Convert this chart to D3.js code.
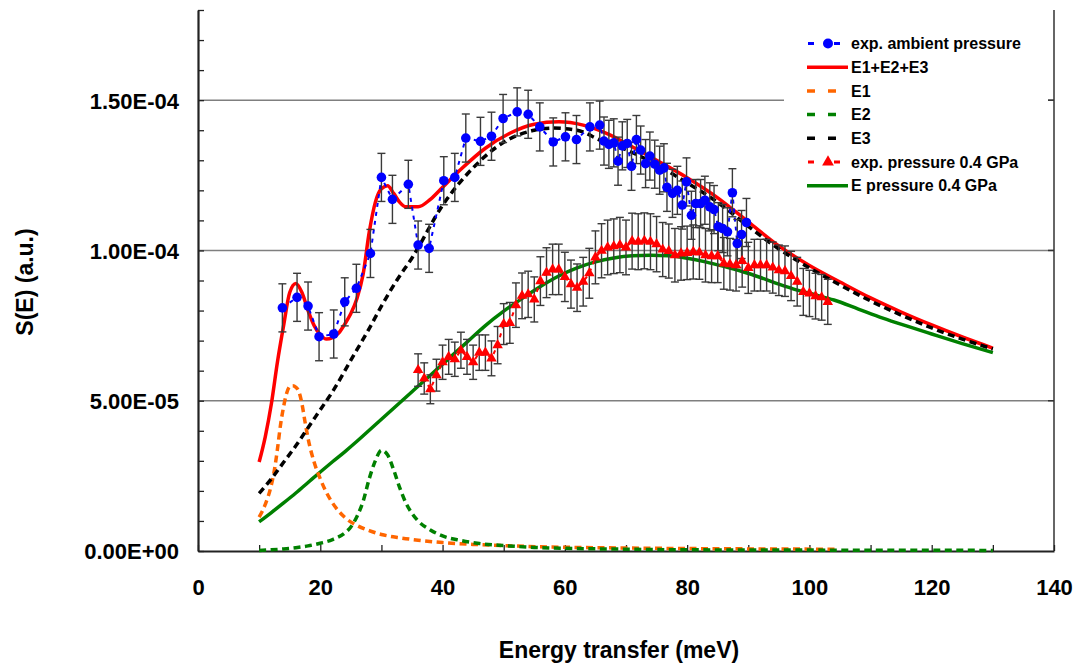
<!DOCTYPE html>
<html>
<head>
<meta charset="utf-8">
<script src="https://cdn.jsdelivr.net/npm/d3@7"></script>
<style>
  html, body { margin: 0; padding: 0; background: #fff; }
  svg { display: block; font-family: "Liberation Sans", Arial, sans-serif; }
</style>
</head>
<body>
<svg id="chart" width="1076" height="663"></svg>
<script>
// S(E) values are stored in units of 1e-5 (a.u.), energies in meV.

// Measured S(E), ambient pressure
const ambientE = [13.8, 16.2, 18.0, 19.8, 22.2, 24.0, 25.9, 28.2, 30.0, 31.8, 34.4, 36.0, 37.8,
  40.2, 42.0, 43.8, 46.2, 48.0, 49.9, 52.2, 54.0, 55.9, 58.1, 60.1, 61.9, 64.1, 65.7, 66.4,
  67.2, 68.0, 68.7, 69.4, 70.2, 70.9, 71.7, 72.4, 73.2, 73.9, 74.7, 75.5, 76.2, 76.7, 77.6,
  78.4, 79.2, 79.9, 80.7, 81.4, 82.2, 82.9, 83.7, 84.4, 85.1, 85.8, 86.6, 87.4, 88.2, 88.9, 89.7];
const ambientS = [8.09, 8.44, 8.15, 7.13, 7.22, 8.29, 8.74, 9.90, 12.43, 11.70, 12.20, 10.18, 10.07,
  12.32, 12.43, 13.74, 13.63, 13.80, 14.39, 14.61, 14.53, 14.11, 13.61, 13.78, 13.69, 14.11, 14.17, 13.64,
  13.53, 13.58, 12.97, 13.48, 13.56, 12.80, 13.69, 13.34, 12.89, 13.14, 12.87, 12.67, 12.75, 12.10, 11.90,
  12.00, 11.51, 12.28, 11.17, 11.56, 11.56, 11.67, 11.45, 11.36, 10.79, 10.73, 10.62, 11.92, 10.23, 10.53, 10.93];
const ambientErr = 0.8;

// Measured S(E), pressure 0.4 GPa
const pressureE = d3.range(36, 104, 1);
const pressureS = [6.02, 5.74, 5.38, 5.85, 6.28, 6.46, 6.38, 6.68, 6.46, 6.28, 6.60, 6.60, 6.41, 6.85,
  7.55, 7.59, 8.18, 8.49, 8.54, 8.37, 8.98, 9.26, 9.37, 9.37, 9.12, 8.88, 8.76, 8.96, 9.24, 9.77,
  9.99, 10.10, 10.14, 10.18, 10.10, 10.31, 10.29, 10.32, 10.29, 10.21, 10.03, 9.98, 9.84, 9.90,
  9.92, 9.95, 9.93, 9.84, 9.81, 9.81, 9.57, 9.54, 9.51, 9.65, 9.42, 9.51, 9.51, 9.51, 9.43, 9.34,
  9.31, 9.15, 8.96, 8.62, 8.57, 8.48, 8.44, 8.29];
const pressureErr = [0.54, 0.52, 0.48, 0.53, 0.57, 0.58, 0.57, 0.60, 0.58, 0.57, 0.59, 0.59, 0.58, 0.62,
  0.68, 0.68, 0.74, 0.76, 0.77, 0.75, 0.81, 0.83, 0.84, 0.84, 0.82, 0.80, 0.79, 0.81, 0.83, 0.88,
  0.90, 0.91, 0.91, 0.92, 0.91, 0.93, 0.93, 0.93, 0.93, 0.92, 0.90, 0.90, 0.89, 0.89,
  0.89, 0.90, 0.89, 0.89, 0.88, 0.88, 0.86, 0.86, 0.86, 0.87, 0.85, 0.86, 0.86, 0.86, 0.85, 0.84,
  0.84, 0.82, 0.81, 0.78, 0.77, 0.76, 0.76, 0.75];

// Fitted components: [E, S]
const fitE1 = [[10, 1.13], [11, 1.55], [12, 2.2], [12.5, 2.7], [13, 3.4], [13.5, 4.2], [14, 4.8],
  [14.5, 5.25], [15, 5.47], [15.5, 5.5], [16, 5.45], [16.5, 5.3], [17, 4.9], [17.5, 4.3], [18, 3.75],
  [19, 2.95], [20, 2.4], [21, 1.95], [22, 1.6], [24, 1.12], [26, 0.85], [28, 0.68], [30, 0.55],
  [33, 0.44], [36, 0.36], [40, 0.28], [45, 0.22], [50, 0.18], [56, 0.14], [65, 0.11], [75, 0.09],
  [90, 0.07], [104.5, 0.06]];
const fitE2 = [[10, 0.02], [12, 0.04], [14, 0.07], [16, 0.11], [18, 0.17], [20, 0.26], [22, 0.38],
  [24, 0.6], [25, 0.8], [26, 1.15], [27, 1.65], [28, 2.4], [29, 3.0], [30, 3.35], [31, 3.2],
  [32, 2.7], [33, 2.1], [34, 1.6], [35, 1.25], [36, 1.0], [38, 0.7], [40, 0.5], [43, 0.35],
  [46, 0.25], [50, 0.18], [55, 0.12], [60, 0.09], [70, 0.06], [80, 0.04], [100, 0.03], [130, 0.02]];
const fitE3 = [[10, 1.92], [12, 2.4], [14, 2.95], [16, 3.5], [18, 4.1], [20, 4.7], [22, 5.3],
  [25, 6.35], [28, 7.4], [30, 8.15], [32.5, 9.0], [35, 9.75], [40, 11.5], [45, 12.75], [50, 13.6],
  [55, 14.0], [58, 14.07], [62, 14.0], [66, 13.65], [70, 13.35], [75, 12.85], [80, 12.25],
  [85, 11.6], [90, 10.8], [95, 10.05], [100, 9.42], [105, 8.85], [110, 8.32], [115, 7.85],
  [120, 7.42], [125, 7.05], [130, 6.72]];
const fitSum = [[10, 2.96], [11, 3.8], [12, 4.9], [13, 6.3], [14, 7.5], [15, 8.6], [16, 8.9],
  [17, 8.6], [18, 8.0], [19, 7.5], [20, 7.2], [21, 7.05], [22, 7.1], [23, 7.25], [24, 7.55],
  [25, 7.9], [26, 8.4], [27, 9.2], [28, 10.6], [29, 11.6], [30, 12.05], [31, 12.15], [32, 11.9],
  [33, 11.6], [34, 11.45], [36, 11.45], [38, 11.7], [40, 12.1], [43, 12.7], [47, 13.4], [51, 13.9],
  [55, 14.2], [59, 14.28], [63, 14.17], [67, 13.88], [71, 13.45], [75, 13.0], [80, 12.42],
  [85, 11.75], [90, 10.95], [95, 10.15], [100, 9.5], [105, 8.95], [110, 8.42], [115, 7.95],
  [120, 7.52], [125, 7.12], [130, 6.75]];
const fitPressure = [[10, 0.97], [12, 1.28], [14, 1.6], [16, 1.93], [18, 2.28], [20, 2.63], [22, 2.97],
  [24, 3.3], [26, 3.65], [29, 4.2], [32, 4.75], [35, 5.3], [38, 5.85], [41, 6.4], [44, 6.95], [47, 7.5],
  [50, 7.98], [53, 8.4], [56, 8.8], [59, 9.15], [62, 9.42], [65, 9.62], [68, 9.75], [71, 9.82],
  [74, 9.84], [77, 9.82], [80, 9.74], [83, 9.62], [86, 9.47], [89, 9.3], [92, 9.1], [95, 8.88],
  [98, 8.68], [101, 8.52], [104, 8.35], [108, 8.05], [112, 7.75], [116, 7.48], [120, 7.22],
  [125, 6.9], [130, 6.6]];

// Axes
const xTicks = d3.range(0, 141, 10);
const xLabelTicks = [0, 20, 40, 60, 80, 100, 120, 140];
const yTicks = d3.range(0, 19, 1);
const yLabelTicks = [0, 5, 10, 15];

const legendItems = [
  { label: "exp. ambient pressure", color: "#0000ff", kind: "circle" },
  { label: "E1+E2+E3", color: "#ff0000", kind: "solid" },
  { label: "E1", color: "#ff6600", kind: "dash" },
  { label: "E2", color: "#008000", kind: "dash" },
  { label: "E3", color: "#000000", kind: "dash" },
  { label: "exp. pressure 0.4 GPa", color: "#ff0000", kind: "triangle" },
  { label: "E pressure 0.4 GPa", color: "#008000", kind: "solid" }
];

const svg = d3.select("#chart");
const plotLeft = 198, plotRight = 1054, plotBottom = 551, plotTop = 10;
const x = d3.scaleLinear().domain([0, 140]).range([plotLeft, plotRight]);
const y = d3.scaleLinear().domain([0, 18]).range([plotBottom, plotTop]);

const fmtSci = v => {
  const [m, e] = (v * 1e-5).toExponential(2).split("e");
  const n = parseInt(e, 10);
  return m + "E" + (n < 0 ? "-" : "+") + String(Math.abs(n)).padStart(2, "0");
};

// Horizontal gridlines
svg.append("g").selectAll("line").data(yLabelTicks.filter(v => v > 0)).join("line")
  .attr("x1", plotLeft).attr("x2", plotRight)
  .attr("y1", d => y(d)).attr("y2", d => y(d))
  .attr("stroke", "#7f7f7f").attr("stroke-width", 1.5);

// Right border with inward major ticks
svg.append("line").attr("x1", plotRight).attr("x2", plotRight).attr("y1", plotTop).attr("y2", plotBottom)
  .attr("stroke", "#333").attr("stroke-width", 1.5);
svg.append("g").selectAll("line").data(yLabelTicks.filter(v => v > 0)).join("line")
  .attr("x1", plotRight - 6).attr("x2", plotRight)
  .attr("y1", d => y(d)).attr("y2", d => y(d))
  .attr("stroke", "#333").attr("stroke-width", 1.5);

// Bottom axis
const xAxis = svg.append("g").attr("transform", `translate(0,${plotBottom})`)
  .call(d3.axisBottom(x).tickValues(xTicks).tickSizeInner(-6).tickSizeOuter(0)
    .tickFormat(d => xLabelTicks.includes(d) ? d : ""));
xAxis.select(".domain").attr("stroke", "#222").attr("stroke-width", 2.2);
xAxis.selectAll(".tick line").attr("stroke", "#222").attr("stroke-width", 1.3);
xAxis.selectAll(".tick text").attr("y", 44).attr("dy", null)
  .attr("fill", "#000").attr("font-size", 22).attr("font-weight", "bold")
  .attr("font-family", "'Liberation Sans', Arial, sans-serif");

// Left axis
const yAxis = svg.append("g").attr("transform", `translate(${plotLeft},0)`)
  .call(d3.axisLeft(y).tickValues(yTicks).tickSizeInner(-6).tickSizeOuter(0)
    .tickFormat(d => yLabelTicks.includes(d) ? fmtSci(d) : ""));
yAxis.select(".domain").attr("stroke", "#222").attr("stroke-width", 2.2);
yAxis.selectAll(".tick line").attr("stroke", "#222").attr("stroke-width", 1.3);
yAxis.selectAll(".tick text").attr("x", -19).attr("dy", "0.36em")
  .attr("fill", "#000").attr("font-size", 22).attr("font-weight", "bold")
  .attr("font-family", "'Liberation Sans', Arial, sans-serif");

// Axis titles
svg.append("text").attr("x", 619).attr("y", 658).attr("text-anchor", "middle")
  .attr("font-size", 23).attr("font-weight", "bold").text("Energy transfer (meV)");
svg.append("text").attr("transform", "translate(33,282) rotate(-90)").attr("text-anchor", "middle")
  .attr("font-size", 23).attr("font-weight", "bold").text("S(E) (a.u.)");

// Curves
const line = d3.line().x(d => x(d[0])).y(d => y(d[1])).curve(d3.curveMonotoneX);
const plot = svg.append("g");
const dashed = "7,4.5";

plot.append("path").datum(fitPressure).attr("d", line).attr("fill", "none")
  .attr("stroke", "#008000").attr("stroke-width", 3.5);
plot.append("path").datum(fitSum).attr("d", line).attr("fill", "none")
  .attr("stroke", "#ff0000").attr("stroke-width", 3.5);
plot.append("path").datum(fitE1).attr("d", line).attr("fill", "none")
  .attr("stroke", "#ff6600").attr("stroke-width", 3.5).attr("stroke-dasharray", dashed);
plot.append("path").datum(fitE2).attr("d", line).attr("fill", "none")
  .attr("stroke", "#008000").attr("stroke-width", 3.5).attr("stroke-dasharray", dashed);
plot.append("path").datum(fitE3).attr("d", line).attr("fill", "none")
  .attr("stroke", "#000000").attr("stroke-width", 3.5).attr("stroke-dasharray", dashed);

// Measured data
const ambient = ambientE.map((e, i) => ({ e, s: ambientS[i], err: ambientErr }));
const pressure = pressureE.map((e, i) => ({ e, s: pressureS[i], err: pressureErr[i] }));

const straight = d3.line().x(d => x(d.e)).y(d => y(d.s));
plot.append("path").datum(ambient).attr("d", straight).attr("fill", "none")
  .attr("stroke", "#0000ff").attr("stroke-width", 2).attr("stroke-dasharray", "4,5");
plot.append("path").datum(pressure).attr("d", straight).attr("fill", "none")
  .attr("stroke", "#ff0000").attr("stroke-width", 2).attr("stroke-dasharray", "4,5");

function errorBars(data) {
  const g = plot.append("g").attr("stroke", "#3a3a3a").attr("stroke-width", 1.4);
  g.selectAll("line.v").data(data).join("line").attr("class", "v")
    .attr("x1", d => x(d.e)).attr("x2", d => x(d.e))
    .attr("y1", d => y(d.s - d.err)).attr("y2", d => y(d.s + d.err));
  [1, -1].forEach(sgn => {
    g.selectAll("line.c" + (sgn > 0 ? "t" : "b")).data(data).join("line")
      .attr("class", "c" + (sgn > 0 ? "t" : "b"))
      .attr("x1", d => x(d.e) - 4).attr("x2", d => x(d.e) + 4)
      .attr("y1", d => y(d.s + sgn * d.err)).attr("y2", d => y(d.s + sgn * d.err));
  });
}
errorBars(pressure);
errorBars(ambient);

const tri = d3.symbol(d3.symbolTriangle, 48);
plot.append("g").selectAll("path").data(pressure).join("path")
  .attr("d", tri).attr("transform", d => `translate(${x(d.e)},${y(d.s)})`)
  .attr("fill", "#ff0000");
plot.append("g").selectAll("circle").data(ambient).join("circle")
  .attr("cx", d => x(d.e)).attr("cy", d => y(d.s)).attr("r", 4.8)
  .attr("fill", "#0000ff");

// Legend
const lg = svg.append("g");
lg.append("rect").attr("x", 784).attr("y", 28).attr("width", 264).attr("height", 172).attr("fill", "#fff");
legendItems.forEach((it, i) => {
  const cy = 43.5 + i * 23.7;
  const row = lg.append("g");
  if (it.kind === "solid") {
    row.append("line").attr("x1", 807).attr("x2", 848).attr("y1", cy).attr("y2", cy)
      .attr("stroke", it.color).attr("stroke-width", 3.5);
  } else if (it.kind === "dash") {
    row.append("line").attr("x1", 807).attr("x2", 848).attr("y1", cy).attr("y2", cy)
      .attr("stroke", it.color).attr("stroke-width", 3.5).attr("stroke-dasharray", "8,13");
  } else {
    row.append("line").attr("x1", 808).attr("x2", 848).attr("y1", cy).attr("y2", cy)
      .attr("stroke", it.color).attr("stroke-width", 3).attr("stroke-dasharray", "6,20");
    if (it.kind === "circle") {
      row.append("circle").attr("cx", 828).attr("cy", cy).attr("r", 5).attr("fill", it.color);
    } else {
      row.append("path").attr("d", d3.symbol(d3.symbolTriangle, 60)())
        .attr("transform", `translate(828,${cy})`).attr("fill", it.color);
    }
  }
  row.append("text").attr("x", 851).attr("y", cy).attr("dy", "0.36em")
    .attr("font-size", 16).attr("font-weight", "bold").attr("fill", "#000").text(it.label);
});
</script>
</body>
</html>
